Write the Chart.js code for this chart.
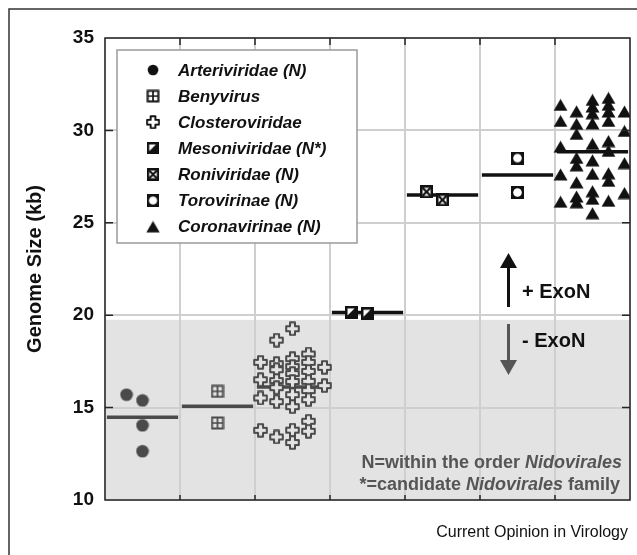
<!DOCTYPE html>
<html>
<head>
<meta charset="utf-8">
<script src="https://cdn.jsdelivr.net/npm/chart.js@4.4.1/dist/chart.umd.min.js"></script>
<style>
    html, body { margin: 0; padding: 0; background: #fff; }
    #wrap { width: 637px; height: 555px; }
</style>
</head>
<body>
<div id="wrap"><canvas id="genomeChart" width="637" height="555"></canvas></div>
<script>
// categories (one column per family)
const families = ["Arteriviridae (N)", "Benyvirus", "Closteroviridae", "Mesoniviridae (N*)",
    "Roniviridae (N)", "Torovirinae (N)", "Coronavirinae (N)"];
const yTicks = [10, 15, 20, 25, 30, 35];
const exonLimit = 19.75;

// genome sizes (kb) and the little side slot each marker sits in
const arteriSizes = [15.70, 15.39, 14.04, 12.64];
const arteriSlots = [-1, 0, 0, 0];
const benySizes = [15.88, 14.17];
const benySlots = [0, 0];
const closteroSizes = [17.45, 16.51, 15.52, 13.77,
    18.65, 17.38, 17.05, 16.46, 16.08, 15.32, 13.41,
    19.27, 17.65, 17.22, 16.84, 16.41, 15.70, 15.05, 13.78, 13.11,
    17.90, 17.45, 16.96, 16.42, 15.92, 15.43, 14.26, 13.72,
    17.18, 16.19];
const closteroSlots = [-2, -2, -2, -2,
    -1, -1, -1, -1, -1, -1, -1,
    0, 0, 0, 0, 0, 0, 0, 0, 0,
    1, 1, 1, 1, 1, 1, 1, 1,
    2, 2];
const mesoSizes = [20.15, 20.08];
const mesoSlots = [-1, 0];
const roniSizes = [26.68, 26.24];
const roniSlots = [-1, 0];
const toroSizes = [28.50, 26.64];
const toroSlots = [0, 0];
const coronaSizes = [31.38, 30.51, 29.12, 27.62, 26.14,
    31.03, 30.35, 29.81, 28.51, 28.11, 27.19, 26.42, 26.11,
    31.65, 31.29, 30.93, 30.38, 29.27, 28.38, 27.65, 26.71, 26.30, 25.52,
    31.76, 31.39, 31.02, 30.51, 29.42, 28.89, 27.68, 27.27, 26.19,
    31.02, 29.97, 28.23, 26.61];
const coronaSlots = [-2, -2, -2, -2, -2,
    -1, -1, -1, -1, -1, -1, -1, -1,
    0, 0, 0, 0, 0, 0, 0, 0, 0, 0,
    1, 1, 1, 1, 1, 1, 1, 1, 1,
    2, 2, 2, 2];
const meanSizes = [14.48, 15.07, 16.12, 20.15, 26.50, 27.58, 28.85];

const SLOT = 0.213;
const HALF_BAR = 0.475;
const FONT = '"Liberation Sans", Arial, Helvetica, sans-serif';
const SHADE = '#e3e3e3';
const DARK = '#4a4a4a';
const INK = '#111';

function makeMarker(w, h, draw) {
    var c = document.createElement('canvas');
    c.width = w;
    c.height = h;
    draw(c.getContext('2d'), w, h);
    return c;
}

function circleMarker(color) {
    return makeMarker(14, 14, function (g) {
        g.fillStyle = color;
        g.beginPath();
        g.arc(7, 7, 6.3, 0, Math.PI * 2);
        g.fill();
    });
}

function boxCrossMarker(color, fill) {
    return makeMarker(14, 14, function (g) {
        g.fillStyle = fill;
        g.fillRect(1, 1, 12, 12);
        g.strokeStyle = color;
        g.lineWidth = 2;
        g.strokeRect(1.5, 1.5, 11, 11);
        g.lineWidth = 1.7;
        g.beginPath();
        g.moveTo(7, 1.5); g.lineTo(7, 12.5);
        g.moveTo(1.5, 7); g.lineTo(12.5, 7);
        g.stroke();
    });
}

function plusMarker(color, fill) {
    return makeMarker(15, 15, function (g) {
        var a = 5, b = 10, lo = 1.2, hi = 13.8;
        g.beginPath();
        g.moveTo(a, lo); g.lineTo(b, lo); g.lineTo(b, a); g.lineTo(hi, a); g.lineTo(hi, b);
        g.lineTo(b, b); g.lineTo(b, hi); g.lineTo(a, hi); g.lineTo(a, b); g.lineTo(lo, b);
        g.lineTo(lo, a); g.lineTo(a, a); g.closePath();
        g.fillStyle = fill;
        g.fill();
        g.strokeStyle = color;
        g.lineWidth = 2;
        g.lineJoin = 'round';
        g.stroke();
    });
}

function halfBoxMarker(color) {
    return makeMarker(13, 13, function (g) {
        g.fillStyle = color;
        g.fillRect(0, 0, 13, 13);
        g.fillStyle = '#fff';
        g.beginPath();
        g.moveTo(2.5, 2.5); g.lineTo(9.5, 2.5); g.lineTo(2.5, 9.5);
        g.closePath();
        g.fill();
    });
}

function xBoxMarker(color) {
    return makeMarker(13, 13, function (g) {
        g.fillStyle = color;
        g.fillRect(0, 0, 13, 13);
        g.fillStyle = '#fff';
        g.fillRect(2.5, 2.5, 8, 8);
        g.strokeStyle = color;
        g.lineWidth = 2.2;
        g.beginPath();
        g.moveTo(2.5, 2.5); g.lineTo(10.5, 10.5);
        g.moveTo(10.5, 2.5); g.lineTo(2.5, 10.5);
        g.stroke();
    });
}

function ringBoxMarker(color) {
    return makeMarker(13, 13, function (g) {
        g.fillStyle = color;
        g.fillRect(0, 0, 13, 13);
        g.fillStyle = '#fff';
        g.beginPath();
        g.arc(6.5, 6.5, 4.3, 0, Math.PI * 2);
        g.fill();
    });
}

function triangleMarker(color) {
    return makeMarker(15, 13, function (g) {
        g.fillStyle = color;
        g.beginPath();
        g.moveTo(7.5, 0.5); g.lineTo(14.5, 12.5); g.lineTo(0.5, 12.5);
        g.closePath();
        g.fill();
    });
}

const chartMarkers = [circleMarker(DARK), boxCrossMarker(DARK, SHADE), plusMarker(DARK, SHADE),
    halfBoxMarker(INK), xBoxMarker(INK), ringBoxMarker(INK), triangleMarker(INK)];
const legendMarkers = [circleMarker(INK), boxCrossMarker(INK, '#fff'), plusMarker(INK, '#fff'),
    halfBoxMarker(INK), xBoxMarker(INK), ringBoxMarker(INK), triangleMarker(INK)];

const familySizes = [arteriSizes, benySizes, closteroSizes, mesoSizes, roniSizes, toroSizes, coronaSizes];
const familySlots = [arteriSlots, benySlots, closteroSlots, mesoSlots, roniSlots, toroSlots, coronaSlots];

function $each(arr, fn) {
    for (var i = 0; i < arr.length; i++) fn(i, arr[i]);
}

function buildDatasets() {
    var sets = [];
    $each(families, function (i) {
        var below = meanSizes[i] < exonLimit;
        sets.push({
            type: 'line',
            data: [{x: i - HALF_BAR, y: meanSizes[i]}, {x: i + HALF_BAR, y: meanSizes[i]}],
            borderColor: below ? '#4a4a4a' : INK,
            borderWidth: 3.5,
            pointRadius: 0,
            order: 2
        });
        sets.push({
            type: 'scatter',
            label: families[i],
            data: familySizes[i].map(function (v, k) {
                return {x: i + familySlots[i][k] * SLOT, y: v};
            }),
            pointStyle: chartMarkers[i],
            pointRadius: 6,
            clip: 0,
            order: 1
        });
    });
    return sets;
}

function drawRuns(ctx, runs, right, y, size) {
    var x = right;
    for (var k = runs.length - 1; k >= 0; k--) {
        ctx.font = (runs[k][1] ? 'italic ' : '') + 'bold ' + size + 'px ' + FONT;
        x -= ctx.measureText(runs[k][0]).width;
        ctx.fillText(runs[k][0], x, y);
    }
}

function drawArrow(ctx, x, from, to, color) {
    var dir = to < from ? -1 : 1;
    var headLen = 15;
    ctx.strokeStyle = color;
    ctx.fillStyle = color;
    ctx.lineWidth = 3;
    ctx.beginPath();
    ctx.moveTo(x, from);
    ctx.lineTo(x, to - dir * headLen);
    ctx.stroke();
    ctx.beginPath();
    ctx.moveTo(x, to);
    ctx.lineTo(x - 8.5, to - dir * headLen);
    ctx.lineTo(x + 8.5, to - dir * headLen);
    ctx.closePath();
    ctx.fill();
}

const figurePlugin = {
    id: 'figure',
    beforeDraw: function (chart) {
        var ctx = chart.ctx, a = chart.chartArea;
        var top = chart.scales.y.getPixelForValue(exonLimit);
        ctx.save();
        ctx.fillStyle = '#fff';
        ctx.fillRect(0, 0, chart.width, chart.height);
        ctx.fillStyle = SHADE;
        ctx.fillRect(a.left, top, a.right - a.left, a.bottom - top);
        ctx.strokeStyle = '#333';
        ctx.lineWidth = 1.5;
        ctx.beginPath();
        ctx.moveTo(9, chart.height);
        ctx.lineTo(9, 9);
        ctx.lineTo(chart.width, 9);
        ctx.stroke();
        ctx.restore();
    },
    afterDraw: function (chart) {
        var ctx = chart.ctx, a = chart.chartArea;
        var xs = chart.scales.x, ys = chart.scales.y;
        ctx.save();

        // frame and inward ticks
        ctx.strokeStyle = '#262626';
        ctx.lineWidth = 1.5;
        ctx.strokeRect(a.left, a.top, a.right - a.left, a.bottom - a.top);
        ctx.beginPath();
        for (var i = 1; i < families.length; i++) {
            var px = xs.getPixelForValue(i - 0.5);
            ctx.moveTo(px, a.top); ctx.lineTo(px, a.top + 7);
            ctx.moveTo(px, a.bottom); ctx.lineTo(px, a.bottom - 5);
        }
        yTicks.slice(1, -1).forEach(function (v) {
            var py = ys.getPixelForValue(v);
            ctx.moveTo(a.left, py); ctx.lineTo(a.left + 8, py);
            ctx.moveTo(a.right, py); ctx.lineTo(a.right - 8, py);
        });
        ctx.stroke();

        // legend
        ctx.fillStyle = '#fff';
        ctx.fillRect(117, 50, 240, 193);
        ctx.strokeStyle = '#9a9a9a';
        ctx.lineWidth = 1.5;
        ctx.strokeRect(117, 50, 240, 193);
        ctx.textBaseline = 'middle';
        ctx.textAlign = 'left';
        ctx.font = 'italic bold 17px ' + FONT;
        ctx.fillStyle = INK;
        $each(families, function (k, name) {
            var rowY = 70 + k * 26.1;
            var m = legendMarkers[k];
            var s = k === 0 ? 0.85 : 0.95;
            ctx.drawImage(m, 153 - m.width * s / 2, rowY - m.height * s / 2, m.width * s, m.height * s);
            ctx.fillText(name, 178, rowY + 1);
        });

        // ExoN arrows
        drawArrow(ctx, 508.5, 307, 253, INK);
        drawArrow(ctx, 508.5, 324, 375, '#555');
        ctx.fillStyle = INK;
        ctx.font = 'bold 20px ' + FONT;
        ctx.fillText('+ ExoN', 522, 292);
        ctx.fillText('- ExoN', 522, 341);

        // notes
        ctx.fillStyle = '#555';
        drawRuns(ctx, [['N=within the order ', false], ['Nidovirales', true]], 622, 463, 18);
        drawRuns(ctx, [['*=candidate ', false], ['Nidovirales', true], [' family', false]], 620, 485, 18);

        ctx.fillStyle = INK;
        ctx.font = '16px ' + FONT;
        ctx.textAlign = 'right';
        ctx.fillText('Current Opinion in Virology', 628, 533);

        // y axis title
        ctx.translate(35, (a.top + a.bottom) / 2);
        ctx.rotate(-Math.PI / 2);
        ctx.textAlign = 'center';
        ctx.font = 'bold 20px ' + FONT;
        ctx.fillText('Genome Size (kb)', 0, 0);
        ctx.restore();
    }
};

const xEdges = families.map(function (f, i) { return i - 0.5; }).concat([families.length - 0.5]);

window.genomeChart = new Chart(document.getElementById('genomeChart'), {
    type: 'scatter',
    data: {datasets: buildDatasets()},
    plugins: [figurePlugin],
    options: {
        responsive: false,
        animation: false,
        devicePixelRatio: 1,
        layout: {padding: {left: 0, right: 7, top: 38, bottom: 55}},
        plugins: {
            legend: {display: false},
            tooltip: {enabled: false}
        },
        scales: {
            x: {
                type: 'linear',
                min: -0.5,
                max: families.length - 0.5,
                afterBuildTicks: function (s) { s.ticks = xEdges.map(function (v) { return {value: v}; }); },
                afterFit: function (s) { s.height = 0; },
                ticks: {display: false},
                grid: {color: '#cfcfcf', lineWidth: 2, drawTicks: false},
                border: {display: false}
            },
            y: {
                min: 10,
                max: 35,
                afterBuildTicks: function (s) { s.ticks = yTicks.map(function (v) { return {value: v}; }); },
                afterFit: function (s) { s.width = 105; },
                ticks: {
                    color: INK,
                    padding: 11,
                    font: {family: FONT, size: 19, weight: 'bold'}
                },
                grid: {color: '#cfcfcf', lineWidth: 2, drawTicks: false},
                border: {display: false}
            }
        }
    }
});
</script>
</body>
</html>
